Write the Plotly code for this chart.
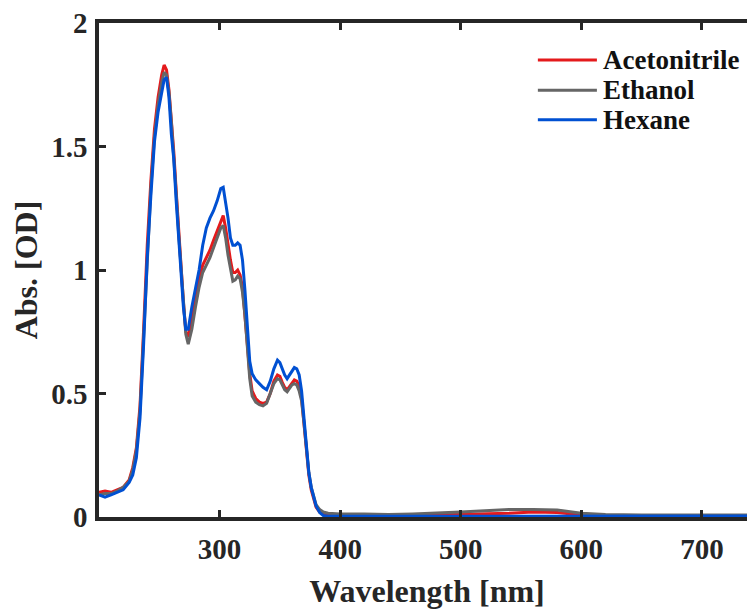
import plotly.graph_objects as go

# ---------------- data ----------------
wavelength = [200, 205, 210, 215, 220, 225, 228, 231, 234, 237, 240, 243, 246, 249, 252, 254,
              256, 258, 260, 262, 264, 266, 268, 270, 272, 274, 277, 280, 283, 286, 289, 292,
              295, 298, 301, 303, 305, 307, 309, 311, 313, 315, 317, 319, 321, 323, 325, 327,
              330, 333, 336, 339, 342, 345, 348, 350, 352, 354, 356, 358, 360, 362, 364, 366,
              368, 370, 372, 374, 376, 378, 380, 383, 386, 390, 400, 420, 440, 460, 480, 500,
              520, 540, 560, 580, 600, 620, 650, 700, 750]

acetonitrile = [0.10, 0.105, 0.10, 0.11, 0.12, 0.15, 0.20, 0.28, 0.45, 0.76, 1.10, 1.36, 1.57, 1.70, 1.79, 1.83,
                1.81, 1.73, 1.61, 1.48, 1.32, 1.16, 1.01, 0.87, 0.75, 0.73, 0.80, 0.88, 0.96, 1.02, 1.05, 1.08,
                1.12, 1.16, 1.20, 1.22, 1.17, 1.10, 1.04, 0.99, 0.99, 1.00, 0.98, 0.93, 0.83, 0.70, 0.58, 0.51,
                0.48, 0.465, 0.46, 0.465, 0.50, 0.55, 0.575, 0.57, 0.545, 0.525, 0.515, 0.53, 0.545, 0.555, 0.55, 0.53,
                0.48, 0.38, 0.26, 0.17, 0.11, 0.07, 0.04, 0.02, 0.012, 0.01, 0.01, 0.01, 0.008, 0.006, 0.008, 0.01,
                0.012, 0.015, 0.02, 0.018, 0.008, 0.005, 0.005, 0.005, 0.005]

ethanol = [0.09, 0.095, 0.095, 0.105, 0.12, 0.145, 0.19, 0.27, 0.43, 0.73, 1.07, 1.33, 1.54, 1.67, 1.76, 1.80,
           1.79, 1.72, 1.60, 1.47, 1.31, 1.15, 1.00, 0.86, 0.74, 0.70, 0.76, 0.85, 0.93, 0.99, 1.02, 1.05,
           1.09, 1.13, 1.17, 1.18, 1.13, 1.06, 1.00, 0.955, 0.96, 0.975, 0.965, 0.91, 0.82, 0.68, 0.56, 0.49,
           0.465, 0.455, 0.45, 0.46, 0.50, 0.54, 0.56, 0.555, 0.535, 0.515, 0.507, 0.52, 0.535, 0.54, 0.535, 0.51,
           0.47, 0.38, 0.27, 0.18, 0.12, 0.08, 0.05, 0.03, 0.02, 0.015, 0.012, 0.012, 0.01, 0.012, 0.015, 0.02,
           0.025, 0.03, 0.03, 0.028, 0.015, 0.01, 0.008, 0.008, 0.008]

hexane = [0.09, 0.08, 0.09, 0.10, 0.11, 0.14, 0.17, 0.24, 0.40, 0.70, 1.05, 1.30, 1.52, 1.64, 1.72, 1.77,
          1.78, 1.70, 1.55, 1.45, 1.28, 1.14, 0.99, 0.85, 0.76, 0.76, 0.85, 0.93, 1.00, 1.10, 1.17, 1.21,
          1.24, 1.28, 1.33, 1.335, 1.28, 1.21, 1.13, 1.10, 1.10, 1.11, 1.10, 1.04, 0.92, 0.77, 0.63, 0.58,
          0.555, 0.54, 0.525, 0.515, 0.55, 0.60, 0.635, 0.625, 0.60, 0.575, 0.56, 0.575, 0.595, 0.605, 0.60, 0.575,
          0.51, 0.40, 0.27, 0.18, 0.12, 0.08, 0.045, 0.018, 0.006, 0.003, 0.003, 0.003, 0.003, 0.003, 0.003, 0.004,
          0.004, 0.004, 0.005, 0.005, 0.004, 0.004, 0.004, 0.004, 0.004]

series_names = ["Acetonitrile", "Ethanol", "Hexane"]
series_values = [acetonitrile, ethanol, hexane]
series_colors = ["#E41A1C", "#666666", "#0050D2"]

x_ticks = [300, 400, 500, 600, 700]
y_ticks = [0, 0.5, 1, 1.5, 2]
y_ticklabels = ["0", "0.5", "1", "1.5", "2"]

FONT = "Liberation Serif"
AXIS_COLOR = "#262626"
TEXT_COLOR = "#262626"

fig = go.Figure()
for name, vals, col in zip(series_names, series_values, series_colors):
    fig.add_trace(go.Scatter(x=wavelength, y=vals, mode="lines", name=name,
                             line=dict(color=col, width=3), showlegend=False))

# manual legend (key lines + labels)
leg_x0, leg_x1, leg_tx = 0.669, 0.759, 0.765
leg_y = [0.925, 0.864, 0.804]
for name, col, ly in zip(series_names, series_colors, leg_y):
    fig.add_shape(type="line", xref="paper", yref="paper", x0=leg_x0, x1=leg_x1, y0=ly, y1=ly,
                  line=dict(color=col, width=3))
    fig.add_annotation(xref="paper", yref="paper", x=leg_tx, y=ly, text="<b>%s</b>" % name,
                       showarrow=False, xanchor="left", yanchor="middle",
                       font=dict(family=FONT, size=27, color="#111111"))

# the page body has an 8px margin, so the figure is sized/offset to compensate
fig.update_layout(
    width=747, height=601,
    margin=dict(l=91, r=0, t=15, b=92, pad=0),
    plot_bgcolor="white", paper_bgcolor="white",
    font=dict(family=FONT, color=TEXT_COLOR),
    xaxis=dict(range=[200, 744], tickvals=x_ticks, ticktext=["<b>%d</b>" % v for v in x_ticks],
               ticks="inside", ticklen=7, tickwidth=2.5, tickcolor=AXIS_COLOR,
               showline=True, linecolor=AXIS_COLOR, linewidth=3.5, mirror="ticks",
               showgrid=False, zeroline=False, automargin=False, ticklabeloverflow="allow",
               tickfont=dict(family=FONT, size=29, color=TEXT_COLOR), ticklabelstandoff=3,
               title=dict(text="<b>Wavelength [nm]</b>", font=dict(family=FONT, size=32, color=TEXT_COLOR),
                          standoff=22)),
    yaxis=dict(range=[0, 2], tickvals=y_ticks, ticktext=["<b>%s</b>" % t for t in y_ticklabels],
               ticks="inside", ticklen=7, tickwidth=2.5, tickcolor=AXIS_COLOR,
               showline=True, linecolor=AXIS_COLOR, linewidth=3.5, mirror=False,
               showgrid=False, zeroline=False, automargin=False, ticklabeloverflow="allow",
               tickfont=dict(family=FONT, size=29, color=TEXT_COLOR), ticklabelstandoff=2,
               title=dict(text="<b>Abs. [OD]</b>", font=dict(family=FONT, size=32, color=TEXT_COLOR),
                          standoff=8)),
    yaxis2=dict(range=[0, 2], tickvals=y_ticks, overlaying="y", side="right", anchor="x",
                ticks="inside", ticklen=7, tickwidth=2.5, tickcolor=AXIS_COLOR,
                showline=False, showgrid=False, zeroline=False, showticklabels=False,
                automargin=False),
)

fig.write_html("out.html")
